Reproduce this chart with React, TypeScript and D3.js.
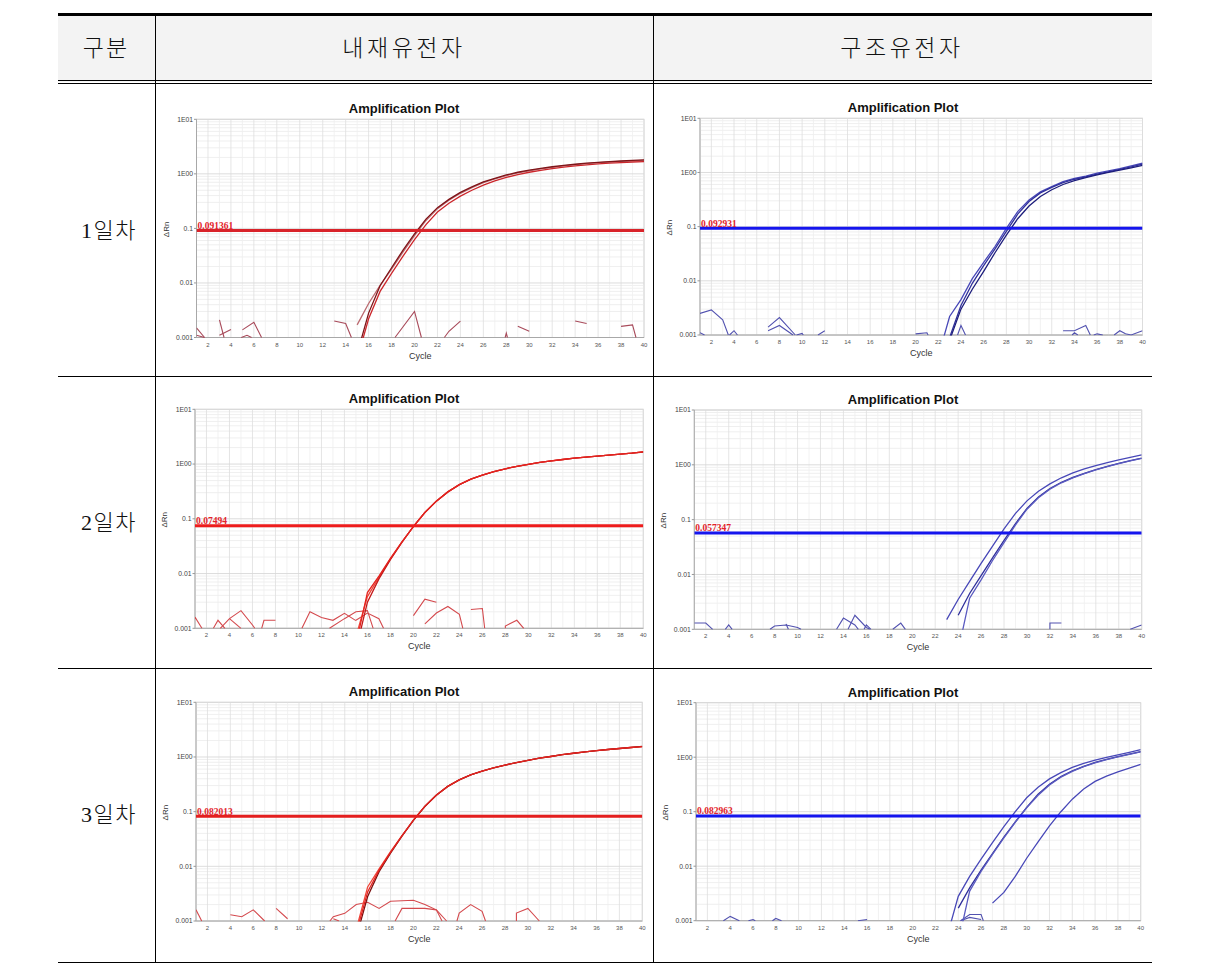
import React from 'react';
import * as d3 from 'd3';

// ---------- table text ----------
const columnHeaders = ['구분', '내재유전자', '구조유전자'];
const dayLabels = ['1일차', '2일차', '3일차'];

// ---------- axes ----------
const cycleDomain: [number, number] = [1, 40];
const deltaRnDomain: [number, number] = [0.001, 10];
const yTickValues = [0.001, 0.01, 0.1, 1, 10];
const yTickLabels = ['0.001', '0.01', '0.1', '1E00', '1E01'];
const xTickCycles = [2, 4, 6, 8, 10, 12, 14, 16, 18, 20, 22, 24, 26, 28, 30, 32, 34, 36, 38, 40];
const plotTitle = 'Amplification Plot';
const xAxisTitle = 'Cycle';
const yAxisTitle = 'ΔRn';

// ---------- thresholds (plots: day1 ref, day1 struct, day2 ref, day2 struct, day3 ref, day3 struct) ----------
const thresholdValues = [0.091361, 0.092931, 0.07494, 0.057347, 0.082013, 0.082963];
const thresholdLabels = ['0.091361', '0.092931', '0.07494', '0.057347', '0.082013', '0.082963'];

// ---------- amplification curves: ΔRn per cycle from the start cycle ----------
const day1RefStarts = [15, 15, 15];
const day1RefA = [0.0005, 0.0028, 0.0089, 0.019, 0.040, 0.079, 0.148, 0.24, 0.34, 0.457, 0.575, 0.71, 0.83, 0.955, 1.07, 1.17, 1.26, 1.35, 1.43, 1.50, 1.57, 1.62, 1.68, 1.72, 1.76, 1.80];
const day1RefB = [0.0004, 0.0022, 0.007, 0.015, 0.031, 0.062, 0.117, 0.2, 0.29, 0.39, 0.5, 0.62, 0.74, 0.86, 0.97, 1.07, 1.16, 1.25, 1.33, 1.4, 1.46, 1.52, 1.57, 1.61, 1.65, 1.68];
const day1RefC = [0.0017, 0.0042, 0.009, 0.018, 0.037, 0.074, 0.14, 0.23, 0.33, 0.44, 0.56, 0.69, 0.81, 0.93, 1.04, 1.14, 1.23, 1.32, 1.4, 1.47, 1.54, 1.6, 1.65, 1.69, 1.73, 1.77];

const day1StructStarts = [22, 23, 23];
const day1StructA = [0.0004, 0.0022, 0.0045, 0.011, 0.022, 0.043, 0.093, 0.19, 0.31, 0.44, 0.55, 0.68, 0.78, 0.86, 0.97, 1.07, 1.18, 1.32, 1.48];
const day1StructB = [0.0009, 0.0035, 0.009, 0.019, 0.039, 0.082, 0.17, 0.29, 0.42, 0.53, 0.65, 0.75, 0.83, 0.93, 1.03, 1.14, 1.27, 1.42];
const day1StructC = [0.0008, 0.003, 0.007, 0.015, 0.033, 0.07, 0.14, 0.24, 0.36, 0.48, 0.6, 0.71, 0.8, 0.9, 1.0, 1.1, 1.22, 1.35];

const day2RefStarts = [15, 15, 15];
const day2RefA = [0.0005, 0.0045, 0.009, 0.019, 0.038, 0.072, 0.13, 0.21, 0.31, 0.42, 0.53, 0.63, 0.73, 0.82, 0.91, 0.99, 1.07, 1.14, 1.21, 1.28, 1.34, 1.4, 1.46, 1.52, 1.58, 1.67];
const day2RefB = [0.0004, 0.003, 0.008, 0.018, 0.037, 0.073, 0.13, 0.21, 0.31, 0.42, 0.53, 0.63, 0.73, 0.82, 0.91, 0.99, 1.07, 1.14, 1.21, 1.28, 1.34, 1.4, 1.46, 1.52, 1.58, 1.66];
const day2RefC = [0.0007, 0.0038, 0.0085, 0.0185, 0.0375, 0.072, 0.131, 0.212, 0.31, 0.42, 0.53, 0.63, 0.73, 0.82, 0.91, 0.99, 1.07, 1.14, 1.21, 1.28, 1.34, 1.4, 1.46, 1.52, 1.58, 1.67];

const day2StructStarts = [23, 24, 24];
const day2StructA = [0.0015, 0.0035, 0.0075, 0.016, 0.033, 0.068, 0.13, 0.22, 0.33, 0.45, 0.58, 0.71, 0.84, 0.97, 1.1, 1.23, 1.37, 1.52];
const day2StructB = [0.0018, 0.0045, 0.0095, 0.02, 0.042, 0.085, 0.16, 0.26, 0.37, 0.48, 0.59, 0.7, 0.82, 0.94, 1.06, 1.19, 1.33];
const day2StructC = [0.0004, 0.0037, 0.008, 0.018, 0.038, 0.08, 0.155, 0.25, 0.36, 0.47, 0.58, 0.69, 0.81, 0.93, 1.05, 1.18, 1.31];

const day3RefStarts = [15, 15, 15];
const day3RefA = [0.0006, 0.0034, 0.0085, 0.018, 0.036, 0.07, 0.125, 0.2, 0.29, 0.38, 0.47, 0.55, 0.63, 0.71, 0.79, 0.87, 0.95, 1.02, 1.1, 1.17, 1.24, 1.31, 1.37, 1.43, 1.49, 1.55];
const day3RefB = [0.0005, 0.0028, 0.008, 0.0175, 0.0355, 0.069, 0.124, 0.2, 0.29, 0.38, 0.47, 0.55, 0.63, 0.71, 0.79, 0.87, 0.95, 1.02, 1.1, 1.17, 1.24, 1.31, 1.37, 1.43, 1.49, 1.56];
const day3RefC = [0.0007, 0.0042, 0.009, 0.0185, 0.0365, 0.07, 0.126, 0.201, 0.29, 0.38, 0.47, 0.55, 0.63, 0.71, 0.79, 0.87, 0.95, 1.02, 1.1, 1.17, 1.24, 1.31, 1.37, 1.43, 1.49, 1.55];

const day3StructStarts = [23, 24, 24, 27];
const day3StructA = [0.0005, 0.0028, 0.0065, 0.0135, 0.027, 0.053, 0.1, 0.18, 0.28, 0.4, 0.52, 0.65, 0.77, 0.88, 0.99, 1.1, 1.23, 1.38];
const day3StructB = [0.0017, 0.004, 0.0085, 0.017, 0.034, 0.065, 0.12, 0.21, 0.32, 0.44, 0.56, 0.68, 0.8, 0.91, 1.02, 1.14, 1.27];
const day3StructC = [0.0004, 0.0035, 0.008, 0.0165, 0.033, 0.064, 0.118, 0.2, 0.31, 0.43, 0.55, 0.67, 0.79, 0.9, 1.01, 1.13, 1.25];
const day3StructD = [0.0021, 0.0033, 0.0065, 0.014, 0.028, 0.055, 0.1, 0.17, 0.26, 0.36, 0.45, 0.54, 0.63, 0.74];

// ---------- baseline noise: [cycle, ΔRn] ----------
const day1RefNoise: [number, number][][] = [
  [[1, 0.0015], [1.7, 0.001]],
  [[1, 0.0011], [1.7, 0.001]],
  [[3, 0.0021], [3.4, 0.001]],
  [[3, 0.0011], [4, 0.0014]],
  [[5, 0.00138], [6, 0.0019], [6.67, 0.001]],
  [[4.9, 0.001], [5.4, 0.0011], [5.8, 0.001]],
  [[13, 0.002], [14, 0.0018], [14.5, 0.001]],
  [[18.3, 0.001], [20, 0.003], [20.6, 0.001]],
  [[22.6, 0.001], [23, 0.0013], [24, 0.002]],
  [[27.9, 0.001], [28, 0.0012], [28.1, 0.001]],
  [[29, 0.0016], [30, 0.0013]],
  [[34, 0.002], [35, 0.0018]],
  [[38, 0.0016], [39, 0.0017], [39.3, 0.001]],
];
const day1StructNoise: [number, number][][] = [
  [[1, 0.0025], [2, 0.0029], [3, 0.0019], [3.5, 0.001]],
  [[1, 0.0011], [1.4, 0.001]],
  [[3.6, 0.001], [4, 0.0012], [4.3, 0.001]],
  [[7, 0.0014], [8, 0.0021], [9.4, 0.001]],
  [[7, 0.0012], [8, 0.0015], [9.2, 0.001]],
  [[9.5, 0.001], [10, 0.00107], [10.1, 0.001]],
  [[11.4, 0.001], [12, 0.0012]],
  [[20, 0.00105], [21, 0.0011], [21.1, 0.001]],
  [[23.7, 0.001], [24, 0.0015], [24.4, 0.001]],
  [[33, 0.0012], [34, 0.0012], [35, 0.0015], [35.4, 0.001]],
  [[33.8, 0.001], [34, 0.0011], [34.3, 0.001]],
  [[35.7, 0.001], [36, 0.00105], [36.5, 0.001]],
  [[37.5, 0.001], [38, 0.0012], [38.5, 0.00105], [39, 0.001], [40, 0.0012]],
];
const day2RefNoise: [number, number][][] = [
  [[1, 0.0016], [1.6, 0.001]],
  [[2.6, 0.001], [3, 0.0014], [3.6, 0.001]],
  [[3.2, 0.001], [4, 0.0015], [5, 0.0021], [6, 0.00115], [6.2, 0.001]],
  [[4, 0.0015], [5, 0.001]],
  [[6.8, 0.001], [7, 0.0014], [8, 0.0014]],
  [[10.3, 0.001], [11, 0.002], [12, 0.00157], [13, 0.0014], [14, 0.00188], [15, 0.00138]],
  [[12.7, 0.001], [14, 0.0015], [15, 0.002], [16, 0.0021], [16.5, 0.001]],
  [[15, 0.0014], [16, 0.0019], [17, 0.0015], [17.4, 0.001]],
  [[20, 0.0017], [21, 0.0034], [22, 0.003]],
  [[21, 0.0012], [22, 0.0019], [23, 0.0025], [24, 0.0018], [24.3, 0.001]],
  [[25, 0.0022], [26, 0.0023], [26.2, 0.001]],
  [[28, 0.001], [28, 0.0011], [29, 0.0014], [29.6, 0.001]],
];
const day2StructNoise: [number, number][][] = [
  [[1, 0.0013], [2, 0.0013], [2.6, 0.001]],
  [[3.7, 0.001], [4, 0.0012], [4.3, 0.001]],
  [[7.6, 0.001], [8, 0.00115], [9, 0.0012], [10, 0.00108], [10.3, 0.001]],
  [[9, 0.00125], [9.2, 0.001]],
  [[13.4, 0.001], [14, 0.0016], [15, 0.0012], [15.3, 0.001]],
  [[14.4, 0.001], [15, 0.0018], [16, 0.00108], [16.3, 0.001]],
  [[15.8, 0.001], [16, 0.0012], [16.4, 0.001]],
  [[18.3, 0.001], [19, 0.0013], [19.4, 0.001]],
  [[32, 0.001], [32, 0.0013], [33, 0.0013]],
  [[39, 0.001], [40, 0.0012]],
];
const day3RefNoise: [number, number][][] = [
  [[1, 0.0016], [1.5, 0.001]],
  [[4, 0.0013], [5, 0.0012], [6, 0.0016], [7, 0.001]],
  [[8, 0.0017], [9, 0.0011]],
  [[12.7, 0.001], [13, 0.0012], [14, 0.00138], [15, 0.002], [16, 0.0022], [17, 0.0017], [18, 0.0023], [20, 0.0024], [21, 0.002], [22, 0.0016], [22.5, 0.001]],
  [[18.4, 0.001], [19, 0.0017], [21, 0.0017], [22, 0.0016], [22.9, 0.001]],
  [[13, 0.0011], [13.5, 0.001]],
  [[23.8, 0.001], [24, 0.0014], [25, 0.002], [26, 0.0015], [26.3, 0.001]],
  [[29, 0.001], [29, 0.0014], [30, 0.0017], [31, 0.001]],
];
const day3StructNoise: [number, number][][] = [
  [[3.4, 0.001], [4, 0.0012], [4.8, 0.001]],
  [[5.6, 0.001], [6, 0.00105], [6.2, 0.001]],
  [[7.7, 0.001], [8, 0.0011], [8.5, 0.001]],
  [[15.2, 0.001], [16, 0.00105]],
  [[24.2, 0.001], [25, 0.0013], [26, 0.0013], [26.2, 0.001]],
  [[24.2, 0.001], [25, 0.00115], [26, 0.00105]],
];

// ---------- styles & layout ----------
const redCurveColors1 = ['#7e1418', '#cc262b', '#bb6a70'];
const redCurveColors = ['#e4231f', '#c21a1a', '#f0463a'];
const blueCurveColors = ['#4848b8', '#30309c', '#1e1e7c', '#5a5ac0'];
const redNoise1 = '#a84a5a';
const redNoise = '#d44a4e';
const blueNoise = '#5252b0';
const redThreshold = '#d9232a';
const blueThreshold = '#1515ee';

const plotBoxes = [
  { left: 196.5, right: 644, top: 119.3, bottom: 337.5, cx: 404 },
  { left: 700, right: 1142.5, top: 118.3, bottom: 335, cx: 903 },
  { left: 195, right: 643.3, top: 409.3, bottom: 628.3, cx: 404 },
  { left: 694.3, right: 1141.7, top: 410, bottom: 629.3, cx: 903 },
  { left: 196, right: 642.3, top: 702.3, bottom: 921, cx: 404 },
  { left: 696, right: 1140.7, top: 702.7, bottom: 920.7, cx: 903 },
];

const fromCycle = (start: number, vals: number[]): [number, number][] =>
  vals.map((v, i) => [start + i, v] as [number, number]);

const plots = [
  {
    curves: [day1RefC, day1RefB, day1RefA].map((v, i) => fromCycle([day1RefStarts[2], day1RefStarts[1], day1RefStarts[0]][i], v)),
    colors: [redCurveColors1[2], redCurveColors1[1], redCurveColors1[0]],
    noise: day1RefNoise, noiseColor: redNoise1, thrColor: redThreshold,
  },
  {
    curves: [day1StructA, day1StructB, day1StructC].map((v, i) => fromCycle(day1StructStarts[i], v)),
    colors: blueCurveColors.slice(0, 3),
    noise: day1StructNoise, noiseColor: blueNoise, thrColor: blueThreshold,
  },
  {
    curves: [day2RefC, day2RefB, day2RefA].map((v, i) => fromCycle(day2RefStarts[i], v)),
    colors: [redCurveColors[2], redCurveColors[1], redCurveColors[0]],
    noise: day2RefNoise, noiseColor: redNoise, thrColor: '#ee1c1c',
  },
  {
    curves: [day2StructA, day2StructB, day2StructC].map((v, i) => fromCycle(day2StructStarts[i], v)),
    colors: [blueCurveColors[0], blueCurveColors[1], blueCurveColors[3]],
    noise: day2StructNoise, noiseColor: blueNoise, thrColor: blueThreshold,
  },
  {
    curves: [day3RefC, day3RefB, day3RefA].map((v, i) => fromCycle(day3RefStarts[i], v)),
    colors: [redCurveColors[2], '#7a1010', redCurveColors[0]],
    noise: day3RefNoise, noiseColor: redNoise, thrColor: '#e41e1e',
  },
  {
    curves: [day3StructA, day3StructB, day3StructC, day3StructD].map((v, i) => fromCycle(day3StructStarts[i], v)),
    colors: [blueCurveColors[0], blueCurveColors[1], blueCurveColors[3], blueCurveColors[0]],
    noise: day3StructNoise, noiseColor: blueNoise, thrColor: blueThreshold,
  },
];

const minorValues: number[] = [];
[-3, -2, -1, 0].forEach((e) => {
  for (let k = 2; k <= 9; k++) minorValues.push(k * Math.pow(10, e));
});
const allCycles = d3.range(1, 41);

function Plot({ idx }: { idx: number }) {
  const b = plotBoxes[idx];
  const p = plots[idx];
  const x = d3.scaleLinear().domain(cycleDomain).range([b.left, b.right]);
  const y = d3.scaleLog().domain(deltaRnDomain).range([b.bottom, b.top]);
  const line = d3.line<[number, number]>().x((d) => x(d[0])).y((d) => y(d[1]));
  const clipId = `clip${idx}`;
  const ty = y(thresholdValues[idx]);
  const tickFont = "'Liberation Sans', Arial, sans-serif";
  return (
    <g>
      <defs>
        <clipPath id={clipId}>
          <rect x={b.left} y={b.top} width={b.right - b.left} height={b.bottom - b.top + 0.5} />
        </clipPath>
      </defs>
      <text x={b.cx} y={b.top - 6} textAnchor="middle" fontFamily={tickFont} fontWeight="bold" fontSize={13} fill="#111">
        {plotTitle}
      </text>
      <rect x={b.left} y={b.top} width={b.right - b.left} height={b.bottom - b.top} fill="#fff" stroke="#d6d6d6" strokeWidth={1} />
      {minorValues.map((v, i) => (
        <line key={`hm${i}`} x1={b.left} x2={b.right} y1={y(v)} y2={y(v)} stroke="#ebebeb" strokeWidth={0.8} />
      ))}
      {allCycles.map((c) => (
        <line key={`v${c}`} x1={x(c)} x2={x(c)} y1={b.top} y2={b.bottom} stroke={c % 2 === 0 ? '#dedede' : '#efefef'} strokeWidth={0.8} />
      ))}
      {yTickValues.map((v, i) => (
        <line key={`hM${i}`} x1={b.left} x2={b.right} y1={y(v)} y2={y(v)} stroke="#d8d8d8" strokeWidth={0.9} />
      ))}
      <line x1={b.left} x2={b.left} y1={b.top} y2={b.bottom} stroke="#a8a8a8" strokeWidth={1} />
      <line x1={b.left} x2={b.right} y1={b.bottom} y2={b.bottom} stroke="#a8a8a8" strokeWidth={1} />
      {yTickValues.map((v, i) => (
        <g key={`yt${i}`}>
          <line x1={b.left - 2.5} x2={b.left} y1={y(v)} y2={y(v)} stroke="#999" />
          <text x={b.left - 3.5} y={y(v) + 2.4} textAnchor="end" fontFamily={tickFont} fontSize={6.8} fill="#444">
            {yTickLabels[i]}
          </text>
        </g>
      ))}
      {xTickCycles.map((c) => (
        <text key={`xt${c}`} x={x(c)} y={b.bottom + 9} textAnchor="middle" fontFamily={tickFont} fontSize={6} fill="#555">
          {c}
        </text>
      ))}
      <text x={(b.left + b.right) / 2} y={b.bottom + 21} textAnchor="middle" fontFamily={tickFont} fontSize={9} fill="#333">
        {xAxisTitle}
      </text>
      <text transform={`translate(${b.left - 28},${(b.top + b.bottom) / 2 + 1}) rotate(-90)`} textAnchor="middle" fontFamily={tickFont} fontSize={8} fill="#333">
        {yAxisTitle}
      </text>
      <g clipPath={`url(#${clipId})`}>
        {p.noise.map((seg, i) => (
          <path key={`n${i}`} d={line(seg) || ''} fill="none" stroke={p.noiseColor} strokeWidth={1.1} />
        ))}
        {p.curves.map((c, i) => (
          <path key={`c${i}`} d={line(c) || ''} fill="none" stroke={p.colors[i]} strokeWidth={1.3} />
        ))}
        <line x1={b.left} x2={b.right} y1={ty} y2={ty} stroke={p.thrColor} strokeWidth={3} />
      </g>
      <text x={b.left + 1} y={ty - 1.8} fontFamily="'Liberation Serif', 'Times New Roman', serif" fontWeight="bold" fontSize={9.5} fill="#e3222a">
        {thresholdLabels[idx]}
      </text>
    </g>
  );
}

const tableLeft = 58;
const tableRight = 1152;
const colSplits = [155, 653];
const rowLines = [82, 376, 668, 962];

export default function App() {
  const korFont = "'Liberation Serif', 'Noto Sans CJK KR', serif";
  const rowCenters = [230, 522, 814];
  const colCenters = [106, 404, 902];
  return (
    <div style={{ position: 'absolute', left: 0, top: 0 }}>
      <svg width={1211} height={976} style={{ display: 'block', background: '#fff' }}>
        <rect x={tableLeft} y={14} width={tableRight - tableLeft} height={rowLines[0] - 14} fill="#f3f3f3" />
        {columnHeaders.map((h, i) => (
          <text key={h} x={colCenters[i]} y={56} textAnchor="middle" fontFamily={korFont} fontWeight={300} fontSize={23} letterSpacing={i === 0 ? 2 : 3.5} fill="#111">
            {h}
          </text>
        ))}
        {dayLabels.map((d, i) => (
          <text key={d} x={colCenters[0] + 3} y={rowCenters[i] + 8} textAnchor="middle" fontFamily={korFont} fontWeight={300} fontSize={22} letterSpacing={1.5} fill="#111">
            {d}
          </text>
        ))}
        {plots.map((_, i) => (
          <Plot key={i} idx={i} />
        ))}
        {/* table rules */}
        <line x1={tableLeft} x2={tableRight} y1={14.5} y2={14.5} stroke="#000" strokeWidth={3} />
        <line x1={tableLeft} x2={tableRight} y1={80.5} y2={80.5} stroke="#000" strokeWidth={1} />
        <line x1={tableLeft} x2={tableRight} y1={83.5} y2={83.5} stroke="#000" strokeWidth={1} />
        {rowLines.slice(1).map((ry) => (
          <line key={ry} x1={tableLeft} x2={tableRight} y1={ry + 0.5} y2={ry + 0.5} stroke="#000" strokeWidth={1} />
        ))}
        {colSplits.map((cx) => (
          <line key={cx} x1={cx + 0.5} x2={cx + 0.5} y1={16} y2={rowLines[3]} stroke="#000" strokeWidth={1} />
        ))}
      </svg>
    </div>
  );
}
